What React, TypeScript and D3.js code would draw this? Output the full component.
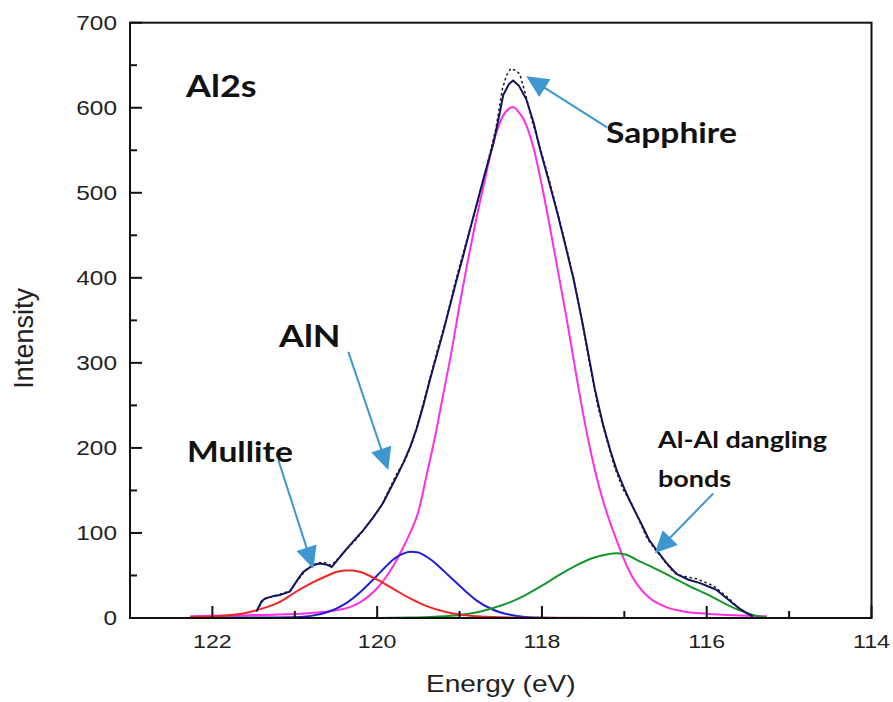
import React from "react";
import * as d3 from "d3";

// Al 2s XPS spectrum: measured points, fitted envelope and four fitted components.
// Each series is a list of [binding energy (eV), intensity] pairs, high energy first.

const measured: [number, number][] = [
  [121.46, 8], [121.38, 22], [121.28, 25], [121.18, 28], [121.06, 32], [120.96, 45],
  [120.86, 57], [120.76, 63], [120.66, 66], [120.56, 62], [120.46, 71], [120.36, 82],
  [120.26, 92], [120.16, 104], [120.06, 117], [119.96, 130], [119.86, 150], [119.76, 170],
  [119.66, 186], [119.56, 210], [119.46, 245], [119.36, 282], [119.26, 318], [119.16, 352],
  [119.06, 392], [118.96, 428], [118.86, 462], [118.76, 497], [118.66, 535], [118.56, 575],
  [118.48, 622], [118.43, 638], [118.38, 646], [118.32, 644], [118.27, 640], [118.2, 616],
  [118.12, 585], [118.02, 552], [117.92, 518], [117.82, 481], [117.72, 442], [117.62, 402],
  [117.52, 352], [117.42, 298], [117.32, 248], [117.22, 212], [117.12, 178], [117.02, 152],
  [116.92, 136], [116.82, 115], [116.72, 93], [116.62, 80], [116.52, 68], [116.42, 56],
  [116.32, 50], [116.22, 48], [116.12, 46], [116.02, 42], [115.92, 38], [115.82, 30],
  [115.72, 22], [115.62, 12], [115.52, 6], [115.44, 2],
];

const envelope: [number, number][] = [
  [121.46, 9], [121.4, 20], [121.36, 23], [121.25, 26], [121.18, 27], [121.06, 31],
  [120.98, 43], [120.9, 54], [120.78, 62], [120.7, 64], [120.62, 63], [120.55, 60],
  [120.45, 72], [120.38, 80], [120.29, 90], [120.17, 103], [120.05, 118], [119.93, 135],
  [119.84, 152], [119.76, 167], [119.68, 183], [119.6, 201], [119.52, 223], [119.44, 250],
  [119.36, 280], [119.28, 308], [119.2, 336], [119.12, 366], [119.04, 396], [118.95, 428],
  [118.87, 458], [118.79, 487], [118.7, 520], [118.59, 558], [118.52, 590], [118.47, 615],
  [118.4, 628], [118.35, 632], [118.28, 626], [118.19, 610], [118.1, 582], [118.02, 550],
  [117.92, 515], [117.82, 479], [117.72, 440], [117.62, 400], [117.56, 372], [117.5, 343],
  [117.44, 312], [117.36, 270], [117.26, 228], [117.17, 197], [117.09, 173], [117.0, 152],
  [116.93, 137], [116.8, 112], [116.7, 92], [116.61, 80], [116.5, 66], [116.37, 52],
  [116.22, 45], [116.08, 41], [115.98, 37], [115.88, 33], [115.78, 25], [115.68, 17],
  [115.6, 11], [115.52, 6], [115.44, 2],
];

const sapphire: [number, number][] = [
  [122.27, 2], [121.8, 3], [121.2, 4], [120.8, 6], [120.5, 9], [120.3, 14], [120.2, 19],
  [120.1, 26], [120.0, 35], [119.9, 47], [119.8, 62], [119.7, 80], [119.6, 100],
  [119.5, 125], [119.4, 168], [119.3, 212], [119.2, 262], [119.1, 312], [119.0, 368],
  [118.9, 420], [118.8, 468], [118.7, 512], [118.6, 555], [118.5, 585], [118.4, 599],
  [118.35, 601], [118.3, 597], [118.2, 582], [118.1, 552], [118.0, 508], [117.9, 458],
  [117.8, 405], [117.7, 352], [117.6, 295], [117.5, 240], [117.4, 192], [117.3, 152],
  [117.2, 120], [117.1, 93], [117.0, 68], [116.9, 48], [116.8, 34], [116.7, 24],
  [116.5, 13], [116.3, 8], [116.0, 5], [115.6, 3], [115.27, 2],
];

const aln: [number, number][] = [
  [122.27, 0.5], [121.5, 0.5], [121.0, 1], [120.8, 2.5], [120.6, 7], [120.4, 16],
  [120.2, 31], [120.0, 50], [119.9, 60], [119.8, 69], [119.7, 75], [119.6, 78],
  [119.5, 77], [119.4, 72], [119.3, 65], [119.2, 56], [119.1, 47], [119.0, 38],
  [118.9, 29], [118.8, 21], [118.6, 10], [118.4, 4], [118.2, 1.2], [118.0, 0.4],
  [117.6, 0], [115.27, 0],
];

const alAl: [number, number][] = [
  [122.27, 0], [120.0, 0], [119.6, 0.5], [119.3, 1.5], [119.0, 3.5], [118.8, 6.5],
  [118.6, 11.5], [118.4, 18], [118.2, 27], [118.0, 38], [117.8, 50], [117.6, 61],
  [117.4, 70], [117.2, 75], [117.1, 76], [117.0, 75], [116.8, 66], [116.6, 57],
  [116.4, 47], [116.2, 37], [116.0, 28], [115.8, 18], [115.6, 9], [115.45, 4],
  [115.27, 0.5],
];

const mullite: [number, number][] = [
  [122.27, 1], [122.0, 1.8], [121.8, 3.2], [121.6, 6], [121.4, 11], [121.2, 18],
  [121.0, 30], [120.8, 41], [120.6, 50], [120.5, 54], [120.4, 56], [120.3, 56],
  [120.2, 54], [120.1, 50], [120.0, 45], [119.8, 34], [119.6, 23], [119.4, 14],
  [119.2, 8], [119.0, 4], [118.8, 2], [118.5, 0.8], [118.0, 0.3], [117.0, 0],
  [115.27, 0],
];

const yMajorTicks = [0, 100, 200, 300, 400, 500, 600, 700];
const yMinorTicks = [50, 150, 250, 350, 450, 550, 650];
const xMajorTicks = [122, 120, 118, 116, 114];
const xMinorTicks = [121, 119, 117, 115];

// Callout arrows: tail and tip in (energy, intensity)
const arrowTails: [number, number][] = [[117.21, 577], [120.35, 313], [121.2, 186], [115.92, 146.5]];
const arrowTips: [number, number][] = [[118.19, 637], [119.865, 174], [120.775, 58], [116.63, 76]];

const W = 893;
const H = 702;
const LEFT = 130;
const RIGHT = 871.5;
const TOP = 22.7;
const BOTTOM = 618;
const SX = 1.22;

const x = d3.scaleLinear().domain([123, 114]).range([LEFT, RIGHT]);
const y = d3.scaleLinear().domain([0, 700]).range([BOTTOM, TOP]);

const smooth = d3
  .line<[number, number]>()
  .x((d) => x(d[0]))
  .y((d) => y(d[1]))
  .curve(d3.curveMonotoneX);

const raw = d3
  .line<[number, number]>()
  .x((d) => x(d[0]))
  .y((d) => y(d[1]));

const AXIS_FONT = "'Liberation Sans', Arial, sans-serif";
const LABEL_FONT = "Lato, 'Open Sans', sans-serif";

function Arrow({ from, to }: { from: [number, number]; to: [number, number] }) {
  const x0 = x(from[0]);
  const y0 = y(from[1]);
  const x1 = x(to[0]);
  const y1 = y(to[1]);
  const len = Math.hypot(x1 - x0, y1 - y0);
  const ux = (x1 - x0) / len;
  const uy = (y1 - y0) / len;
  const headLen = 22;
  const halfW = 10.5;
  const bx = x1 - ux * headLen;
  const by = y1 - uy * headLen;
  const pts = [
    [x1, y1],
    [bx - uy * halfW, by + ux * halfW],
    [bx + uy * halfW, by - ux * halfW],
  ]
    .map((p) => p.join(","))
    .join(" ");
  return (
    <g>
      <line x1={x0} y1={y0} x2={bx + ux * 2} y2={by + uy * 2} stroke="#3e97cf" strokeWidth={2} />
      <polygon points={pts} fill="#3e97cf" />
    </g>
  );
}

function Label({ x: px, y: py, size, children }: { x: number; y: number; size: number; children: React.ReactNode }) {
  return (
    <text
      transform={`translate(${px},${py}) scale(1.2,1)`}
      fontFamily={LABEL_FONT}
      fontWeight={700}
      fontSize={size}
      fill="#111"
    >
      {children}
    </text>
  );
}

export default function App() {
  return (
    <svg
      width={W}
      height={H}
      viewBox={`0 0 ${W} ${H}`}
      style={{ position: "absolute", left: 0, top: 0, background: "#fff", display: "block" }}
    >
      <rect x={0} y={0} width={W} height={H} fill="#fff" />

      {/* fitted components */}
      <path d={smooth(sapphire) ?? ""} fill="none" stroke="#ff2ee6" strokeWidth={2} />
      <path d={smooth(aln) ?? ""} fill="none" stroke="#1f1fd6" strokeWidth={2} />
      <path d={smooth(alAl) ?? ""} fill="none" stroke="#16962a" strokeWidth={2} />
      <path d={smooth(mullite) ?? ""} fill="none" stroke="#ee2626" strokeWidth={2} />

      {/* measured data and envelope */}
      <path
        d={raw(measured) ?? ""}
        fill="none"
        stroke="#222"
        strokeWidth={1.6}
        strokeDasharray="1.2 4"
        strokeLinecap="round"
      />
      <path d={raw(envelope) ?? ""} fill="none" stroke="#14145e" strokeWidth={2} strokeLinejoin="round" />

      {/* frame */}
      <rect x={LEFT} y={TOP} width={RIGHT - LEFT} height={BOTTOM - TOP} fill="none" stroke="#111" strokeWidth={2} />

      {/* y ticks */}
      {yMajorTicks.map((t) => (
        <g key={`ym${t}`}>
          <line x1={LEFT} x2={LEFT + 12} y1={y(t)} y2={y(t)} stroke="#111" strokeWidth={2} />
          <text
            transform={`translate(117,${y(t) + 7}) scale(${SX},1)`}
            textAnchor="end"
            fontFamily={AXIS_FONT}
            fontSize={20}
            fill="#222"
          >
            {t}
          </text>
        </g>
      ))}
      {yMinorTicks.map((t) => (
        <line key={`yn${t}`} x1={LEFT} x2={LEFT + 7} y1={y(t)} y2={y(t)} stroke="#111" strokeWidth={2} />
      ))}

      {/* x ticks */}
      {xMajorTicks.map((t) => (
        <g key={`xm${t}`}>
          <line x1={x(t)} x2={x(t)} y1={BOTTOM} y2={BOTTOM - 12} stroke="#111" strokeWidth={2} />
          <text
            transform={`translate(${x(t)},648) scale(${SX},1)`}
            textAnchor="middle"
            fontFamily={AXIS_FONT}
            fontSize={19}
            fill="#222"
          >
            {t}
          </text>
        </g>
      ))}
      {xMinorTicks.map((t) => (
        <line key={`xn${t}`} x1={x(t)} x2={x(t)} y1={BOTTOM} y2={BOTTOM - 7} stroke="#111" strokeWidth={2} />
      ))}

      {/* axis titles */}
      <text
        transform={`translate(${(LEFT + RIGHT) / 2},692) scale(${SX},1)`}
        textAnchor="middle"
        fontFamily={AXIS_FONT}
        fontSize={23}
        fill="#222"
      >
        Energy (eV)
      </text>
      <text
        transform={`translate(33,${(TOP + BOTTOM) / 2 + 18}) rotate(-90)`}
        textAnchor="middle"
        fontFamily={AXIS_FONT}
        fontSize={27}
        fill="#222"
      >
        Intensity
      </text>

      {/* callouts */}
      {arrowTails.map((t, i) => (
        <Arrow key={i} from={t} to={arrowTips[i]} />
      ))}
      <Label x={186} y={97} size={30}>Al2s</Label>
      <Label x={606} y={143} size={28}>Sapphire</Label>
      <Label x={279} y={347} size={30}>AlN</Label>
      <Label x={187} y={462} size={28}>Mullite</Label>
      <Label x={658} y={448} size={22.5}>Al-Al dangling</Label>
      <Label x={658} y={487} size={22.5}>bonds</Label>
    </svg>
  );
}
